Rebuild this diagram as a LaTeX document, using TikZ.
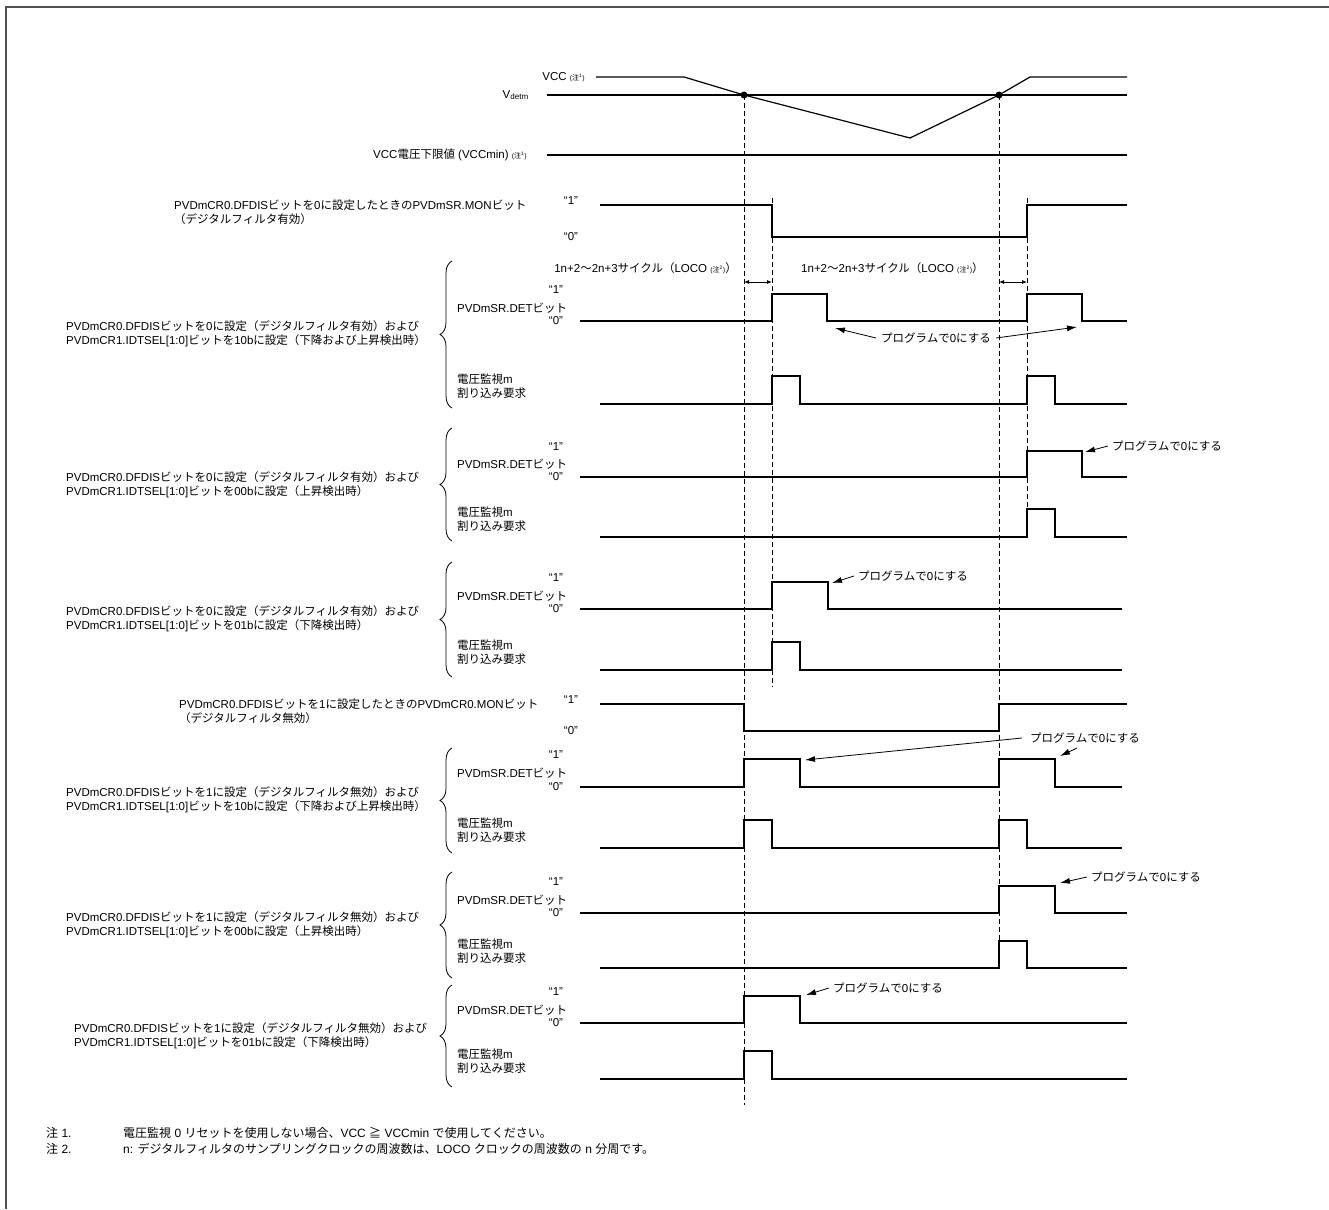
\documentclass[tikz,border=0pt]{standalone}
\usepackage{fontspec}
\setmainfont{Liberation Sans}
\newfontfamily\jpfont{Noto Sans CJK JP}
\usetikzlibrary{arrows.meta,decorations.pathreplacing}

%% kana, kanji and full-width forms go to the CJK font
\newXeTeXintercharclass\jpclass
\newcount\jpcode
\jpcode="3000
\loop\ifnum\jpcode<"A000 \XeTeXcharclass\jpcode=\jpclass \advance\jpcode by 1 \repeat
\jpcode="FF00
\loop\ifnum\jpcode<"FFF0 \XeTeXcharclass\jpcode=\jpclass \advance\jpcode by 1 \repeat
\XeTeXcharclass"2267=\jpclass
\XeTeXinterchartoks 0 \jpclass = {\jpfont}
\XeTeXinterchartoks 4095 \jpclass = {\jpfont}
\XeTeXinterchartoks \jpclass 0 = {\rmfamily}
\XeTeXinterchartoks \jpclass 4095 = {\rmfamily}
\XeTeXinterchartokenstate=1

\definecolor{frameGray}{HTML}{505050}
\newcommand{\noteMark}[1]{{\fontsize{7}{8}\selectfont(注\textsuperscript{#1})}}

\begin{document}
\begin{tikzpicture}
[x=1pt,y=-1pt,
  sigLine/.style={line width=1.2pt,line join=miter},
  guideLine/.style={line width=0.8pt,dash pattern=on 5pt off 3pt},
  labelText/.style={inner sep=0pt,font=\fontsize{11.5}{14}\selectfont},
  rowLabel/.style={labelText,anchor=west,align=left},
  noteText/.style={labelText,font=\fontsize{12}{15}\selectfont,anchor=west},
  noteArrow/.style={-{Latex[length=10pt,width=6pt]},line width=0.8pt},
  cycleArrow/.style={{Latex[length=5pt,width=4pt]}-{Latex[length=5pt,width=4pt]},line width=0.8pt},
  rowBrace/.style={decorate,decoration={brace,amplitude=12pt},line width=0.8pt},
  crossDot/.style={circle,fill,inner sep=0pt,minimum size=7pt}]
\useasboundingbox (0,0) rectangle (1329,1209);
\draw[frameGray,line width=2pt] (6,1209) -- (6,7) -- (1329,7);

%% supply voltage and thresholds
\node[labelText,anchor=east] (vccLabel) at (585,77) {VCC \noteMark{1}};
\node[labelText,anchor=east] (vdetLabel) at (529,95) {V\textsubscript{detm}};
\node[labelText,anchor=east] (vminLabel) at (527,155) {VCC電圧下限値 (VCCmin) \noteMark{1}};
\draw[sigLine] (596,77) -- (684,77) -- (744,95) -- (910,138) -- (999,95) -- (1030,77) -- (1127,77);
\draw[sigLine] (547,95) -- (1127,95);
\draw[sigLine] (547,155) -- (1127,155);
\node[crossDot] (fallDot) at (744,95) {};
\node[crossDot] (riseDot) at (999,95) {};

%% guide lines
\draw[guideLine] (fallDot.center) -- (744,1105);
\draw[guideLine] (riseDot.center) -- (999,968);
\draw[guideLine] (772,198) -- (772,687);
\draw[guideLine] (1027,198) -- (1027,537);

%% level marks
\foreach \lx/\yh/\yl in {571/205/237, 556/294/321, 556/451/477, 556/582/609,
  571/704/731, 556/759/787, 556/886/913, 556/996/1023}
{
  \node[labelText] (high\yh) at (\lx,\yh-4) {“1”};
  \node[labelText] (low\yl) at (\lx,\yl) {“0”};
}

%% flag and interrupt rows
\foreach \rowname/\yd/\yi/\bt/\bb in {a/308/386/261/408, b/464/519/428/541,
  c/596/652/562/677, d/773/830/748/853, e/900/951/872/978, f/1010/1061/985/1087}
{
  \node[rowLabel] (det\rowname) at (457,\yd) {PVDmSR.DETビット};
  \node[rowLabel] (int\rowname) at (457,\yi) {電圧監視m\\割り込み要求};
  \draw[rowBrace] (452,\bb) -- (452,\bt);
}

%% settings
\node[rowLabel] (monA) at (174,212) {PVDmCR0.DFDISビットを0に設定したときのPVDmSR.MONビット\\（デジタルフィルタ有効）};
\node[rowLabel] (cfgA) at (66,334) {PVDmCR0.DFDISビットを0に設定（デジタルフィルタ有効）および\\PVDmCR1.IDTSEL[1:0]ビットを10bに設定（下降および上昇検出時）};
\node[rowLabel] (cfgB) at (66,485) {PVDmCR0.DFDISビットを0に設定（デジタルフィルタ有効）および\\PVDmCR1.IDTSEL[1:0]ビットを00bに設定（上昇検出時）};
\node[rowLabel] (cfgC) at (66,619) {PVDmCR0.DFDISビットを0に設定（デジタルフィルタ有効）および\\PVDmCR1.IDTSEL[1:0]ビットを01bに設定（下降検出時）};
\node[rowLabel] (monB) at (179,711) {PVDmCR0.DFDISビットを1に設定したときのPVDmCR0.MONビット\\（デジタルフィルタ無効）};
\node[rowLabel] (cfgD) at (66,800) {PVDmCR0.DFDISビットを1に設定（デジタルフィルタ無効）および\\PVDmCR1.IDTSEL[1:0]ビットを10bに設定（下降および上昇検出時）};
\node[rowLabel] (cfgE) at (66,925) {PVDmCR0.DFDISビットを1に設定（デジタルフィルタ無効）および\\PVDmCR1.IDTSEL[1:0]ビットを00bに設定（上昇検出時）};
\node[rowLabel] (cfgF) at (74,1036) {PVDmCR0.DFDISビットを1に設定（デジタルフィルタ無効）および\\PVDmCR1.IDTSEL[1:0]ビットを01bに設定（下降検出時）};

%% waveforms
\draw[sigLine] (600,205) -- (772,205) -- (772,237) -- (1027,237) -- (1027,205) -- (1127,205);
\draw[sigLine] (580,321) -- (772,321) -- (772,294) -- (827,294) -- (827,321) -- (1027,321) -- (1027,294) -- (1082,294) -- (1082,321) -- (1127,321);
\draw[sigLine] (600,404) -- (772,404) -- (772,376) -- (800,376) -- (800,404) -- (1027,404) -- (1027,376) -- (1055,376) -- (1055,404) -- (1127,404);
\draw[sigLine] (580,477) -- (1027,477) -- (1027,451) -- (1082,451) -- (1082,477) -- (1127,477);
\draw[sigLine] (600,537) -- (1027,537) -- (1027,509) -- (1055,509) -- (1055,537) -- (1127,537);
\draw[sigLine] (580,609) -- (772,609) -- (772,582) -- (828,582) -- (828,609) -- (1122,609);
\draw[sigLine] (600,670) -- (772,670) -- (772,642) -- (800,642) -- (800,670) -- (1122,670);
\draw[sigLine] (600,704) -- (744,704) -- (744,731) -- (999,731) -- (999,704) -- (1127,704);
\draw[sigLine] (580,787) -- (744,787) -- (744,759) -- (800,759) -- (800,787) -- (999,787) -- (999,759) -- (1055,759) -- (1055,787) -- (1122,787);
\draw[sigLine] (600,848) -- (744,848) -- (744,820) -- (772,820) -- (772,848) -- (999,848) -- (999,820) -- (1027,820) -- (1027,848) -- (1122,848);
\draw[sigLine] (580,913) -- (999,913) -- (999,886) -- (1055,886) -- (1055,913) -- (1127,913);
\draw[sigLine] (600,968) -- (999,968) -- (999,941) -- (1027,941) -- (1027,968) -- (1127,968);
\draw[sigLine] (580,1023) -- (744,1023) -- (744,996) -- (800,996) -- (800,1023) -- (1127,1023);
\draw[sigLine] (600,1079) -- (744,1079) -- (744,1051) -- (772,1051) -- (772,1079) -- (1127,1079);

%% filter delay
\node[labelText,anchor=east] (delayA) at (737,268) {1n+2～2n+3サイクル（LOCO \noteMark{2}）};
\node[labelText,anchor=west] (delayB) at (801,268) {1n+2～2n+3サイクル（LOCO \noteMark{2}）};
\coordinate (delayA1) at (744,282);
\coordinate (delayA2) at (772,282);
\coordinate (delayB1) at (999,282);
\coordinate (delayB2) at (1027,282);
\draw[cycleArrow] (delayA1) -- (delayA2);
\draw[cycleArrow] (delayB1) -- (delayB2);

%% clearing by program
\node[labelText] (clrA) at (936,338) {プログラムで0にする};
\node[labelText,anchor=west] (clrB) at (1112,446) {プログラムで0にする};
\node[labelText,anchor=west] (clrC) at (858,576) {プログラムで0にする};
\node[labelText,anchor=west] (clrD) at (1030,738) {プログラムで0にする};
\node[labelText,anchor=west] (clrE) at (1091,877) {プログラムで0にする};
\node[labelText,anchor=west] (clrF) at (833,988) {プログラムで0にする};
\coordinate (endA1) at (835,328);
\coordinate (endA2) at (1077,327);
\coordinate (endB) at (1085,452);
\coordinate (endC) at (832,583);
\coordinate (endD1) at (805,760);
\coordinate (startD2) at (1077,748);
\coordinate (endD2) at (1060,756);
\coordinate (endE) at (1060,883);
\coordinate (endF) at (806,995);
\draw[noteArrow] ([xshift=-5pt]clrA.west) -- (endA1);
\draw[noteArrow] ([xshift=5pt]clrA.east) -- (endA2);
\draw[noteArrow] ([xshift=-4pt]clrB.west) -- (endB);
\draw[noteArrow] ([xshift=-4pt]clrC.west) -- (endC);
\draw[noteArrow] ([xshift=-8pt]clrD.west) -- (endD1);
\draw[noteArrow] (startD2) -- (endD2);
\draw[noteArrow] ([xshift=-4pt]clrE.west) -- (endE);
\draw[noteArrow] ([xshift=-4pt]clrF.west) -- (endF);

%% notes
\node[noteText] (noteOne) at (46,1133) {注 1.};
\node[noteText] (noteOneText) at (123,1133) {電圧監視 0 リセットを使用しない場合、VCC ≧ VCCmin で使用してください。};
\node[noteText] (noteTwo) at (46,1149) {注 2.};
\node[noteText] (noteTwoText) at (123,1149) {n: デジタルフィルタのサンプリングクロックの周波数は、LOCO クロックの周波数の n 分周です。};
\end{tikzpicture}
\end{document}
